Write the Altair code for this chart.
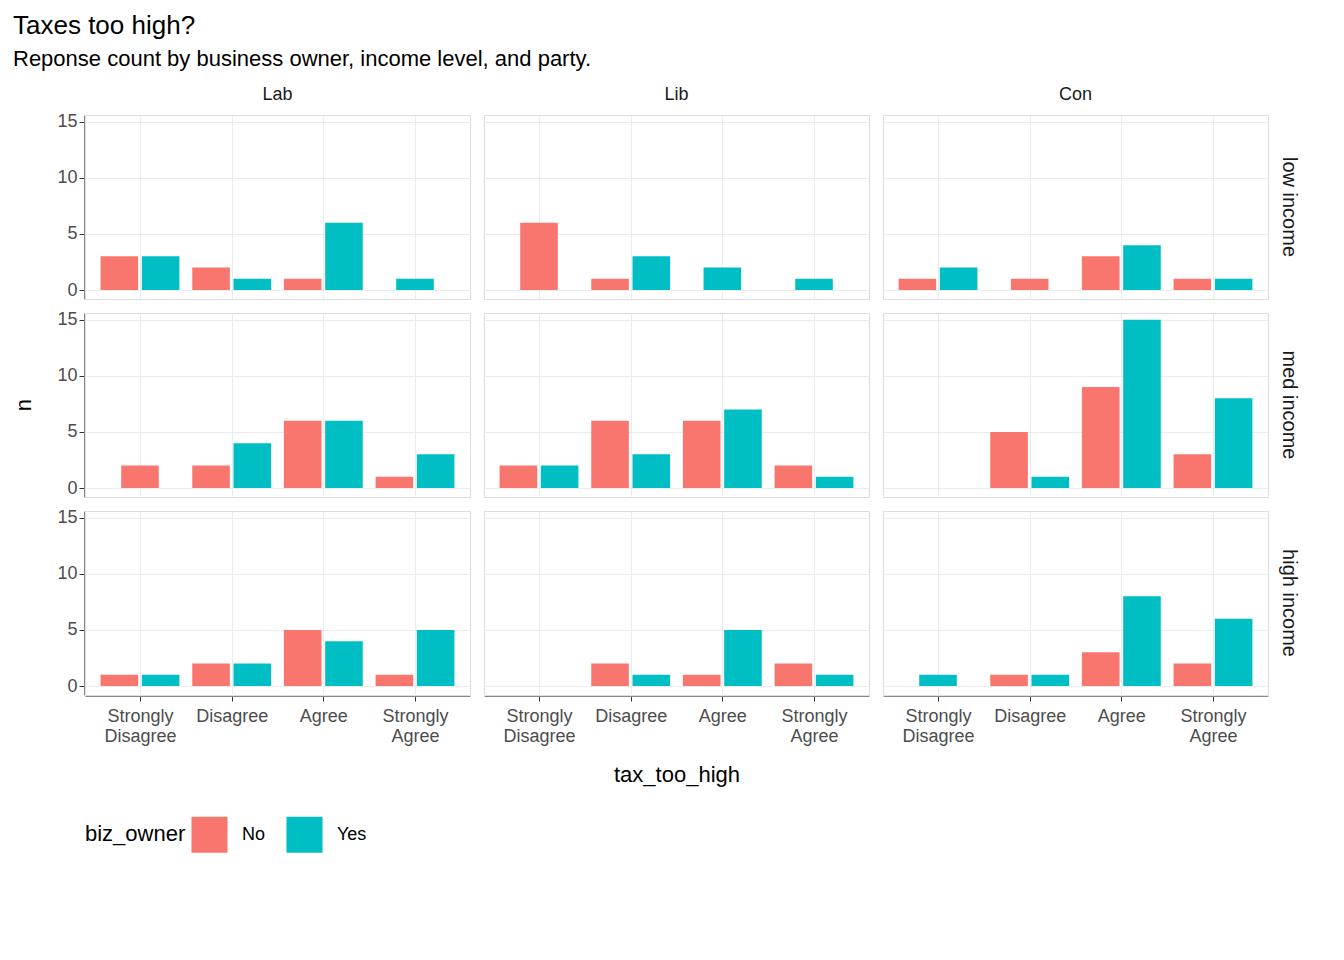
import pandas as pd
import altair as alt

cats = ["Strongly Disagree", "Disagree", "Agree", "Strongly Agree"]
parties = ["Lab", "Lib", "Con"]
incomes = ["low income", "med income", "high income"]

# counts per (income, party): list of (No, Yes) per category, None = no bar
counts = {
    ("low income", "Lab"): [(3, 3), (2, 1), (1, 6), (None, 1)],
    ("low income", "Lib"): [(6, None), (1, 3), (None, 2), (None, 1)],
    ("low income", "Con"): [(1, 2), (1, None), (3, 4), (1, 1)],
    ("med income", "Lab"): [(2, None), (2, 4), (6, 6), (1, 3)],
    ("med income", "Lib"): [(2, 2), (6, 3), (6, 7), (2, 1)],
    ("med income", "Con"): [(None, None), (5, 1), (9, 15), (3, 8)],
    ("high income", "Lab"): [(1, 1), (2, 2), (5, 4), (1, 5)],
    ("high income", "Lib"): [(None, None), (2, 1), (1, 5), (2, 1)],
    ("high income", "Con"): [(None, 1), (1, 1), (3, 8), (2, 6)],
}

rows = []
for (inc, party), vals in counts.items():
    for i, (no, yes) in enumerate(vals):
        pos = i + 1
        pair = [("No", no), ("Yes", yes)]
        present = [p for p in pair if p[1] is not None]
        for owner, n in present:
            if len(present) == 1:
                off = 0.0
            else:
                off = -0.225 if owner == "No" else 0.225
            rows.append(dict(income=inc, party=party, biz_owner=owner, n=n,
                             x0=pos + off - 0.205, x1=pos + off + 0.205))
df = pd.DataFrame(rows)

label_expr = ("datum.value == 1 ? ['Strongly', 'Disagree'] : datum.value == 2 ? 'Disagree' : "
              "datum.value == 3 ? 'Agree' : datum.value == 4 ? ['Strongly', 'Agree'] : ''")

base = alt.Chart(df).mark_bar().encode(
    x=alt.X("x0:Q", title=None, scale=alt.Scale(domain=[0.4, 4.6], nice=False),
            axis=alt.Axis(values=[1, 2, 3, 4], labelExpr=label_expr, labelFontSize=18,
                          labelColor="#4d4d4d", tickColor="#333", gridColor="#ebebeb",
                          labelPadding=6)),
    x2="x1:Q",
    y=alt.Y("n:Q", title=None, scale=alt.Scale(domain=[-0.8, 15.6], nice=False),
            axis=alt.Axis(values=[0, 5, 10, 15], labelFontSize=18,
                          labelColor="#4d4d4d", tickColor="#333", gridColor="#ebebeb")),
    y2=alt.datum(0),
    color=alt.Color("biz_owner:N", title="biz_owner",
                    scale=alt.Scale(domain=["No", "Yes"], range=["#F8766D", "#00BFC4"]),
                    legend=alt.Legend(orient="bottom", direction="horizontal", titleOrient="left",
                                      symbolType="square", symbolSize=1300, labelFontSize=18,
                                      titleFontSize=22, titleFontWeight="normal",
                                      symbolStrokeWidth=0, labelOffset=14, columnPadding=20,
                                      offset=30)),
).properties(width=385, height=184)

chart = base.facet(
    column=alt.Column("party:N", sort=parties, title="tax_too_high",
                      header=alt.Header(labelFontSize=18, labelColor="#1a1a1a",
                                        titleOrient="bottom", titleFontSize=22,
                                        titleFontWeight="normal", titleColor="#000")),
    row=alt.Row("income:N", sort=incomes, title="n",
                header=alt.Header(labelOrient="right", labelAngle=90, labelFontSize=20,
                                  labelColor="#1a1a1a", titleOrient="left", titleFontSize=22,
                                  titleFontWeight="normal", titleColor="#000")),
    spacing=12,
).properties(
    title=alt.TitleParams("Taxes too high?",
                          subtitle="Reponse count by business owner, income level, and party.",
                          fontSize=26, subtitleFontSize=22, fontWeight="normal",
                          anchor="start", subtitleColor="#000", offset=16, subtitlePadding=10)
).configure_view(stroke="#333", strokeWidth=1.5).configure(font="Arial")

chart.save("out.html", embed_options={"renderer": "svg", "actions": False})
